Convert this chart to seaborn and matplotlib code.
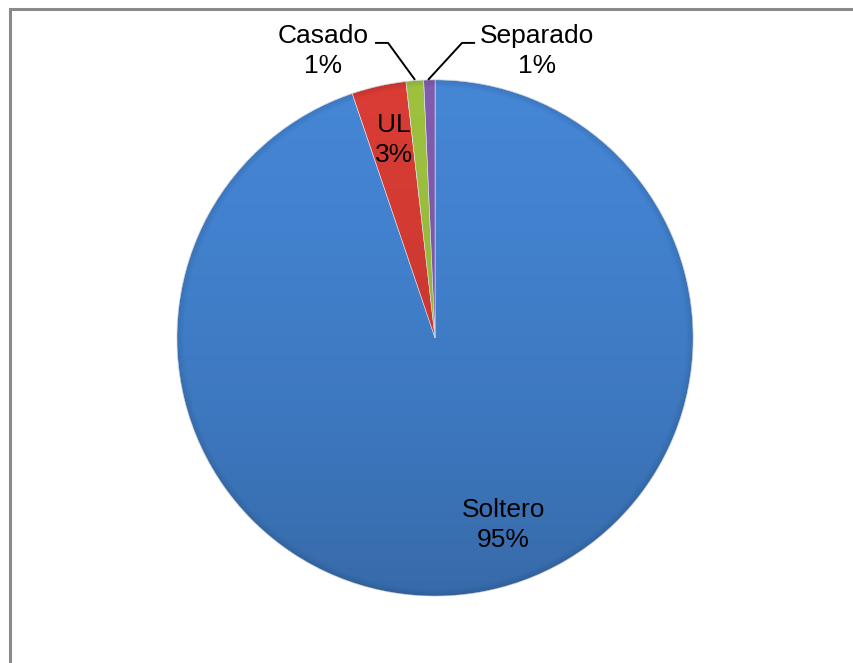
import numpy as np
import matplotlib
matplotlib.use("Agg")
import matplotlib.pyplot as plt
import seaborn as sns
from matplotlib.patches import Circle

# Estado civil: share of respondents (%)
categories = ["Soltero", "UL", "Casado", "Separado"]
shares = [94.8, 3.4, 1.1, 0.7]
pct_labels = ["95%", "3%", "1%", "1%"]
colors = ["#4485d4", "#d83c34", "#9dc13f", "#7f5cae"]

sns.set_theme(style="white")
plt.rcParams["font.family"] = ["Liberation Sans", "DejaVu Sans"]

W, H = 853, 663
fig = plt.figure(figsize=(W / 100 + 0.001, H / 100 + 0.001), dpi=100)
ax = fig.add_axes([0, 0, 1, 1])


def Y(y):
    """Convert a top-down pixel row into the y-up axis coordinate."""
    return H - y


cx, cy, R = 435, Y(338), 258

wedges, _ = ax.pie(shares, colors=colors, startangle=90, counterclock=False,
                   center=(cx, cy), radius=R,
                   wedgeprops=dict(edgecolor="#e8eef6", linewidth=0.4))

ax.set_xlim(0, W)
ax.set_ylim(0, H)
ax.set_aspect("equal")
ax.axis("off")

# Outer chart frame (left and top edges visible)
ax.plot([10, 10, W + 5], [-5, Y(9), Y(9)], color="#8a8a8a", lw=2.2,
        zorder=0, solid_joinstyle="miter")

# soft vertical shading over the disc (darker toward the bottom)
grad = np.linspace(0, 1, 256).reshape(-1, 1)
shade = np.zeros((256, 1, 4))
shade[..., 3] = 0.20 * grad ** 1.5
im = ax.imshow(shade, extent=(cx - R, cx + R, cy - R, cy + R), origin="upper",
               aspect="auto", zorder=3, interpolation="bicubic")
im.set_clip_path(Circle((cx, cy), R, transform=ax.transData))
# dark rim near the circumference
for i, a in enumerate(np.linspace(0.14, 0.02, 6)):
    ax.add_patch(Circle((cx, cy), R - 1.2 * i, fill=False,
                        edgecolor="black", linewidth=1.2, alpha=a * 0.5, zorder=4))
ax.set_xlim(0, W)
ax.set_ylim(0, H)

fs = 19
txt = dict(ha="center", va="center", fontsize=fs, color="black",
           linespacing=1.35, zorder=6)
ax.text(503, Y(525), f"{categories[0]}\n{pct_labels[0]}", **txt)
ax.text(394, Y(140), f"{categories[1]}\n{pct_labels[1]}", **txt)
ax.text(323, Y(51), f"{categories[2]}\n{pct_labels[2]}", **txt)
ax.text(537, Y(51), f"{categories[3]}\n{pct_labels[3]}", **txt)

# leader lines for the two thin slices
ax.plot([375, 388, 415], [Y(43), Y(43), Y(80)], color="black", lw=1.4,
        zorder=6, solid_capstyle="butt")
ax.plot([475, 462, 428], [Y(43), Y(43), Y(80)], color="black", lw=1.4,
        zorder=6, solid_capstyle="butt")

fig.savefig("out.png", dpi=100)
